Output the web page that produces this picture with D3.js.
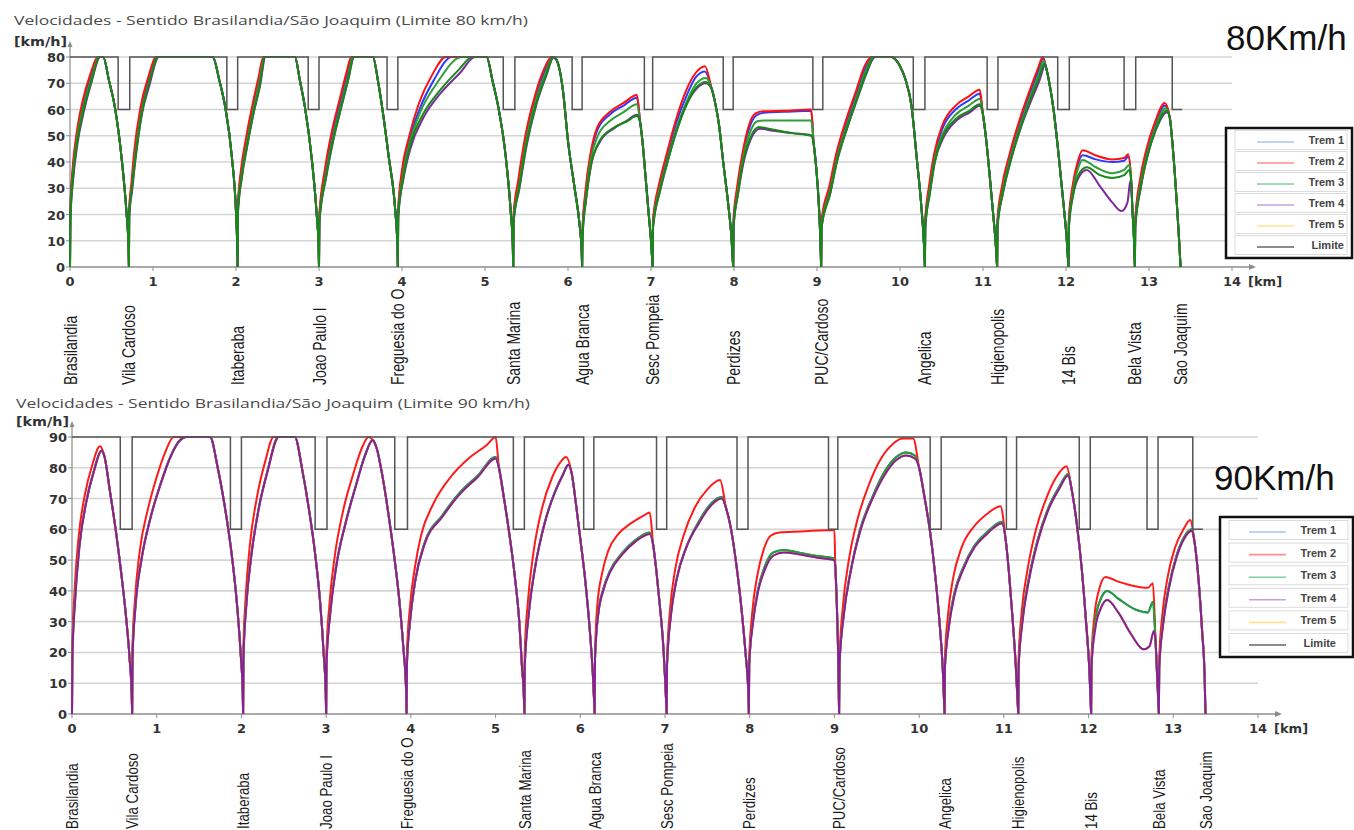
<!DOCTYPE html>
<html>
<head>
<meta charset="utf-8">
<script src="https://cdn.jsdelivr.net/npm/d3@7.9.0/dist/d3.min.js"></script>
<style>
  body { margin: 0; background: #fff; }
  svg { display: block; }
</style>
</head>
<body>
<svg id="chart" width="1354" height="830"></svg>
<script>
// stations along the line (km)
const stationKm = [0, 0.71, 2.02, 3.0, 3.95, 5.34, 6.17, 7.02, 7.99, 9.05, 10.3, 11.17, 12.03, 12.83, 13.38];
const stationNames = ['Brasilandia', 'Vila Cardoso', 'Itaberaba', 'Joao Paulo I', 'Freguesia do O', 'Santa Marina',
  'Agua Branca', 'Sesc Pompeia', 'Perdizes', 'PUC/Cardoso', 'Angelica', 'Higienopolis', '14 Bis', 'Bela Vista', 'Sao Joaquim'];

// speed limit: stretches where the limit drops to 60 km/h [from km, to km]
const limitDipsTop = [[0.58,0.72],[1.89,2.02],[2.87,3.0],[3.82,3.95],[5.22,5.36],[6.05,6.17],[6.92,7.02],[7.87,7.99],[8.95,9.07],[10.16,10.3],[11.05,11.18],[11.9,12.04],[12.7,12.84],[13.28,13.4]];
const limitDipsBottom = [[0.57,0.71],[1.87,2.0],[2.87,3.01],[3.81,3.96],[5.21,5.34],[6.04,6.16],[6.9,7.02],[7.85,7.98],[8.93,9.04],[10.13,10.26],[11.03,11.15],[11.89,12.02],[12.69,12.82],[13.23,13.35]];

const legendLabels = ['Trem 1', 'Trem 2', 'Trem 3', 'Trem 4', 'Trem 5', 'Limite'];
const legendColors = ['#a9c5ef', '#ff8e8e', '#7fd09e', '#c3a0e3', '#ffe290', '#666666'];

// ---- 80 km/h chart: braking curves (shared by all trains), [km, km/h]
const brakeTop = [
  [[0.40,80],[0.47,71],[0.54,61],[0.62,42],[0.68,21],[0.705,8],[0.71,0]],
  [[1.72,80],[1.80,71],[1.87,61],[1.95,42],[2.0,21],[2.015,8],[2.02,0]],
  [[2.71,80],[2.77,71],[2.83,61],[2.91,42],[2.97,21],[2.995,8],[3.0,0]],
  [[3.65,80],[3.71,71],[3.76,61],[3.84,42],[3.92,21],[3.945,8],[3.95,0]],
  [[5.02,80],[5.09,71],[5.16,61],[5.25,42],[5.31,21],[5.335,8],[5.34,0]],
  [[5.86,79],[5.9,75],[5.94,67],[6.0,48],[6.08,30],[6.14,16],[6.165,6],[6.17,0]],
  [[6.87,55],[6.9,47],[6.93,36],[6.97,21],[7.0,10],[7.02,0]],
  [[7.73,68],[7.77,63],[7.82,54],[7.87,40],[7.93,24],[7.97,11],[7.99,0]],
  [[8.96,47],[8.99,38],[9.02,25],[9.04,11],[9.05,0]],
  [[9.9,80],[9.96,78.5],[10.0,76.5],[10.06,72],[10.14,61],[10.2,42],[10.26,22],[10.29,8],[10.3,0]],
  [[11.0,58],[11.04,48],[11.08,35],[11.12,21],[11.155,8],[11.17,0]],
  [[11.76,76],[11.8,70],[11.85,60],[11.91,43],[11.97,24],[12.01,10],[12.03,0]],
  [[12.785,33],[12.8,22],[12.82,10],[12.83,0]],
  [[13.25,57],[13.28,48],[13.31,36],[13.34,22],[13.365,9],[13.38,0]]
];

// acceleration / cruise part of every run, per train
const trem1Top = [
  [[0,0],[0.004,21],[0.032,36],[0.082,50],[0.155,62],[0.245,72],[0.345,80]],
  [[0.71,0],[0.713,21],[0.743,31],[0.775,42],[0.855,60],[0.945,71],[1.05,80]],
  [[2.02,0],[2.023,23],[2.063,36],[2.125,48],[2.205,61],[2.275,71],[2.338,80]],
  [[3.0,0],[3.004,19],[3.075,36],[3.157,50],[3.257,63],[3.338,73],[3.4,80]],
  [[3.95,0],[3.954,21],[4.005,36],[4.085,48],[4.21,60],[4.38,71],[4.6,80]],
  [[5.34,0],[5.344,19],[5.405,32],[5.485,48],[5.605,64],[5.725,75],[5.81,80]],
  [[6.17,0],[6.174,13],[6.212,28],[6.272,42],[6.352,52],[6.5,58],[6.67,61.5],[6.83,64.5]],
  [[7.02,0],[7.024,17],[7.102,31],[7.183,41],[7.305,55],[7.425,65],[7.545,72.5],[7.65,74.5]],
  [[7.99,0],[7.994,17],[8.043,30],[8.103,42],[8.185,53],[8.27,57.8],[8.36,58.8],[8.6,59.1],[8.93,59.5]],
  [[9.05,0],[9.055,17],[9.153,30],[9.233,42],[9.355,55],[9.475,66],[9.585,76],[9.67,80]],
  [[10.3,0],[10.304,17],[10.353,30],[10.413,42],[10.515,53],[10.67,60],[10.83,63.5],[10.96,66]],
  [[11.17,0],[11.174,17],[11.233,30],[11.323,42],[11.445,55],[11.565,66],[11.665,74.5],[11.725,79.5]],
  [[12.03,0],[12.034,17],[12.082,30],[12.142,39],[12.2,42.6],[12.36,41],[12.56,40],[12.7,40.5],[12.75,42]],
  [[12.83,0],[12.834,17],[12.893,32],[12.973,44],[13.073,54],[13.19,61.5]]
];
const trem2Top = [
  [[0,0],[0.004,22],[0.03,37],[0.08,51],[0.15,63],[0.24,73],[0.34,80]],
  [[0.71,0],[0.713,22],[0.74,32],[0.77,43],[0.85,61],[0.94,72],[1.04,80]],
  [[2.02,0],[2.023,24],[2.06,37],[2.12,49],[2.2,62],[2.27,72],[2.33,80]],
  [[3.0,0],[3.004,20],[3.07,37],[3.15,51],[3.25,64],[3.33,74],[3.39,80]],
  [[3.95,0],[3.954,22],[4.0,37],[4.08,49],[4.2,62],[4.36,73],[4.53,80]],
  [[5.34,0],[5.344,20],[5.4,33],[5.48,49],[5.6,65],[5.72,76],[5.8,80]],
  [[6.17,0],[6.174,14],[6.21,29],[6.27,43],[6.35,53],[6.5,59],[6.67,62.5],[6.83,65.5]],
  [[7.02,0],[7.024,18],[7.1,32],[7.18,42],[7.3,56],[7.42,67],[7.54,74],[7.65,76.5]],
  [[7.99,0],[7.994,18],[8.04,31],[8.1,43],[8.18,54],[8.26,58.5],[8.35,59.3],[8.6,59.5],[8.93,60]],
  [[9.05,0],[9.055,18],[9.15,31],[9.23,43],[9.35,56],[9.47,67],[9.58,77],[9.66,80]],
  [[10.3,0],[10.304,18],[10.35,31],[10.41,43],[10.51,54],[10.67,61.5],[10.83,65],[10.96,67.5]],
  [[11.17,0],[11.174,18],[11.23,31],[11.32,43],[11.44,56],[11.56,67],[11.66,75.5],[11.72,80]],
  [[12.03,0],[12.034,18],[12.08,31],[12.14,40],[12.2,44.5],[12.36,42.5],[12.56,41],[12.7,41.5],[12.75,43]],
  [[12.83,0],[12.834,18],[12.89,33],[12.97,45],[13.07,55],[13.19,62.5]]
];
const trem3Top = [
  [[0,0],[0.004,20],[0.034,35],[0.085,49],[0.16,61],[0.25,71],[0.355,80]],
  [[0.71,0],[0.713,20],[0.745,30],[0.78,41],[0.86,59],[0.95,70],[1.06,80]],
  [[2.02,0],[2.023,22],[2.066,35],[2.13,47],[2.21,60],[2.28,70],[2.345,80]],
  [[3.0,0],[3.004,18],[3.08,35],[3.165,49],[3.265,62],[3.345,72],[3.41,80]],
  [[3.95,0],[3.954,20],[4.01,35],[4.09,47],[4.22,59],[4.42,70],[4.72,80]],
  [[5.34,0],[5.344,18],[5.41,31],[5.49,47],[5.61,63],[5.73,74],[5.82,80]],
  [[6.17,0],[6.174,12],[6.215,27],[6.275,41],[6.36,50],[6.5,55.5],[6.67,59],[6.83,62]],
  [[7.02,0],[7.024,16],[7.105,30],[7.188,40],[7.31,53],[7.43,63],[7.55,70],[7.66,72]],
  [[7.99,0],[7.994,16],[8.046,29],[8.106,41],[8.19,51],[8.28,55.5],[8.37,55.8],[8.6,55.8],[8.93,55.8]],
  [[9.05,0],[9.055,16],[9.156,29],[9.236,41],[9.36,54],[9.48,65],[9.59,75],[9.68,80]],
  [[10.3,0],[10.304,16],[10.356,29],[10.416,41],[10.52,51],[10.67,58],[10.83,61.5],[10.96,64]],
  [[11.17,0],[11.174,16],[11.236,29],[11.326,41],[11.45,54],[11.57,65],[11.67,73],[11.73,78.5]],
  [[12.03,0],[12.034,16],[12.085,29],[12.145,37.5],[12.2,40.8],[12.36,38],[12.56,35.7],[12.7,37],[12.765,39]],
  [[12.83,0],[12.834,16],[12.896,31],[12.976,43],[13.076,53],[13.2,60.5]]
];
const trem4Top = [
  [[0,0],[0.004,18],[0.037,33],[0.09,47],[0.165,59],[0.255,70],[0.365,80]],
  [[0.71,0],[0.713,19],[0.748,29],[0.785,40],[0.865,58],[0.955,69],[1.07,80]],
  [[2.02,0],[2.023,20],[2.07,34],[2.135,46],[2.215,59],[2.29,69],[2.355,80]],
  [[3.0,0],[3.004,17],[3.085,34],[3.17,48],[3.27,61],[3.35,71],[3.425,80]],
  [[3.95,0],[3.954,19],[4.02,34],[4.1,45],[4.26,57],[4.46,66],[4.7,74],[4.88,80]],
  [[5.34,0],[5.344,17],[5.415,30],[5.5,46],[5.62,62],[5.74,73],[5.83,80]],
  [[6.17,0],[6.174,11],[6.22,26],[6.28,39],[6.39,48],[6.55,52.7],[6.71,55.8],[6.83,58]],
  [[7.02,0],[7.024,15],[7.11,29],[7.19,39],[7.31,52],[7.43,62],[7.55,68],[7.66,70]],
  [[7.99,0],[7.994,15],[8.05,28],[8.11,39],[8.2,48.5],[8.31,52.7],[8.45,52],[8.7,51],[8.93,50.2]],
  [[9.05,0],[9.055,15],[9.16,28],[9.24,40],[9.365,53],[9.485,64],[9.6,74],[9.7,80]],
  [[10.3,0],[10.304,15],[10.36,28],[10.42,40],[10.52,49],[10.68,55.8],[10.84,58.9],[10.96,61.4]],
  [[11.17,0],[11.174,15],[11.24,28],[11.33,40],[11.455,53],[11.575,63],[11.68,71],[11.75,77]],
  [[12.03,0],[12.034,15],[12.09,28],[12.15,34],[12.25,37],[12.41,30.7],[12.56,24.5],[12.67,21.3],[12.74,24.5],[12.77,32]],
  [[12.83,0],[12.834,15],[12.9,30],[12.98,42],[13.08,52],[13.22,59]]
];
const trem5Top = [
  [[0,0],[0.004,17],[0.036,34],[0.088,48],[0.163,60],[0.252,70],[0.36,80]],
  [[0.71,0],[0.713,19],[0.747,30],[0.783,40],[0.862,58],[0.952,70],[1.065,80]],
  [[2.02,0],[2.023,21],[2.068,34],[2.133,46],[2.213,59],[2.285,69],[2.35,80]],
  [[3.0,0],[3.004,17],[3.083,34],[3.168,48],[3.268,61],[3.348,71],[3.42,80]],
  [[3.95,0],[3.954,19],[4.015,34],[4.095,46],[4.25,58],[4.45,67],[4.68,75],[4.85,80]],
  [[5.34,0],[5.344,17],[5.412,30],[5.495,46],[5.615,62],[5.735,73],[5.825,80]],
  [[6.17,0],[6.174,11],[6.218,26],[6.278,39],[6.38,48],[6.55,53],[6.71,55.5],[6.83,57.5]],
  [[7.02,0],[7.024,15],[7.108,29],[7.19,39],[7.31,52],[7.43,62],[7.55,68.5],[7.66,70.5]],
  [[7.99,0],[7.994,15],[8.048,28],[8.108,40],[8.2,49.5],[8.3,53.3],[8.45,52.5],[8.7,51],[8.93,50]],
  [[9.05,0],[9.055,15],[9.158,28],[9.238,40],[9.362,53],[9.482,64],[9.595,74],[9.69,80]],
  [[10.3,0],[10.304,15],[10.358,28],[10.418,40],[10.52,50],[10.675,56.5],[10.835,59.5],[10.96,62]],
  [[11.17,0],[11.174,15],[11.238,28],[11.328,40],[11.452,53],[11.572,64],[11.675,72],[11.74,77.5]],
  [[12.03,0],[12.034,15],[12.088,28],[12.148,35],[12.25,38],[12.41,35],[12.56,33.9],[12.7,35],[12.765,37]],
  [[12.83,0],[12.834,15],[12.898,30],[12.978,42],[13.078,52],[13.21,59.5]]
];

// ---- 90 km/h chart
const brakeBottom = [
  [[0.38,84],[0.45,72],[0.52,59],[0.58,46],[0.64,31],[0.68,18],[0.705,6],[0.71,0]],
  [[1.63,90],[1.72,80],[1.8,68],[1.88,53],[1.94,38],[1.99,20],[2.015,7],[2.02,0]],
  [[2.63,90],[2.72,79],[2.8,66],[2.87,52],[2.93,36],[2.97,20],[2.995,7],[3.0,0]],
  [[3.6,86],[3.66,78],[3.73,66],[3.8,52],[3.86,38],[3.91,22],[3.945,7],[3.95,0]],
  [[5.04,80],[5.1,70],[5.17,57],[5.23,44],[5.28,30],[5.31,16],[5.335,5],[5.34,0]],
  [[5.9,78],[5.95,68],[6.0,57],[6.06,43],[6.11,28],[6.15,12],[6.17,0]],
  [[6.86,55],[6.9,46],[6.94,35],[6.98,22],[7.0,12],[7.02,0]],
  [[7.72,67],[7.78,60],[7.84,49],[7.9,35],[7.95,20],[7.985,6],[7.99,0]],
  [[9.01,48],[9.03,34],[9.045,18],[9.055,0]],
  [[10.0,80],[10.06,71],[10.13,59],[10.19,45],[10.24,30],[10.28,14],[10.3,0]],
  [[11.02,57],[11.06,46],[11.1,32],[11.14,16],[11.17,0]],
  [[11.8,73],[11.86,62],[11.92,47],[11.97,30],[12.01,14],[12.03,0]],
  [[12.79,24],[12.81,12],[12.83,0]],
  [[13.25,56],[13.3,43],[13.34,27],[13.37,12],[13.38,0]]
];
const trem2Bottom = [
  [[0,0],[0.004,22],[0.03,40],[0.08,58],[0.15,71],[0.24,81],[0.33,87]],
  [[0.71,0],[0.714,22],[0.74,36],[0.8,53],[0.9,67],[1.0,77],[1.1,85],[1.2,90]],
  [[2.02,0],[2.024,22],[2.05,38],[2.1,55],[2.18,70],[2.28,82],[2.38,90]],
  [[3.0,0],[3.004,20],[3.04,36],[3.1,51],[3.2,66],[3.32,78],[3.43,87],[3.5,90]],
  [[3.95,0],[3.954,20],[3.99,35],[4.05,48],[4.12,58],[4.26,68],[4.47,77],[4.68,83],[4.9,87.5],[5.0,90]],
  [[5.34,0],[5.344,20],[5.38,36],[5.45,53],[5.55,67],[5.67,77],[5.77,82],[5.83,83.5]],
  [[6.17,0],[6.174,20],[6.2,35],[6.26,46],[6.33,53],[6.45,58.5],[6.6,62],[6.75,64.5],[6.82,65.5]],
  [[7.02,0],[7.024,18],[7.06,34],[7.12,47],[7.22,58],[7.35,67],[7.5,73],[7.65,76]],
  [[7.99,0],[7.994,18],[8.03,33],[8.09,45],[8.16,53],[8.25,58],[8.35,59],[8.6,59.3],[9.0,59.8]],
  [[9.055,0],[9.06,18],[9.1,35],[9.17,50],[9.27,63],[9.4,74],[9.55,83],[9.7,88],[9.8,89.5],[9.93,89.5]],
  [[10.3,0],[10.304,18],[10.34,32],[10.4,44],[10.5,54],[10.65,61],[10.8,65],[10.96,67.5]],
  [[11.17,0],[11.174,18],[11.21,33],[11.28,47],[11.38,60],[11.5,70],[11.62,77],[11.74,80.5]],
  [[12.03,0],[12.034,18],[12.07,32],[12.12,40],[12.2,44.5],[12.35,43],[12.55,41.5],[12.7,41],[12.76,42.5]],
  [[12.83,0],[12.834,18],[12.87,32],[12.93,44],[13.02,54],[13.12,60],[13.2,63]]
];
const trem3Bottom = [
  [[0,0],[0.004,19],[0.034,37],[0.088,55],[0.168,69],[0.258,79],[0.345,85.5]],
  [[0.71,0],[0.714,19],[0.748,35],[0.818,50],[0.928,64],[1.048,75],[1.168,84],[1.275,89],[1.34,90]],
  [[2.02,0],[2.024,19],[2.058,36],[2.118,52],[2.198,66],[2.308,79],[2.435,90]],
  [[3.0,0],[3.004,17],[3.048,33],[3.118,48],[3.228,62],[3.348,74],[3.458,84],[3.548,89]],
  [[3.95,0],[3.954,17],[3.99,30],[4.05,43],[4.16,55.5],[4.37,64.5],[4.58,72],[4.79,77.5],[5.0,83.5]],
  [[5.34,0],[5.344,16],[5.388,32],[5.468,48],[5.578,62],[5.698,72],[5.798,78],[5.858,81]],
  [[6.17,0],[6.174,18],[6.21,32],[6.27,40.5],[6.35,46.5],[6.5,52.5],[6.65,56.5],[6.82,59]],
  [[7.02,0],[7.024,16],[7.068,32],[7.138,44],[7.248,54],[7.398,62.5],[7.548,68.5],[7.67,70.5]],
  [[7.99,0],[7.994,16],[8.038,30],[8.098,40.5],[8.178,48],[8.278,52.5],[8.4,53.3],[8.6,52.3],[8.8,51.3],[9.0,50.5]],
  [[9.055,0],[9.06,16],[9.108,32],[9.188,46],[9.298,59.5],[9.448,70.5],[9.598,79],[9.73,83.5],[9.85,85],[9.95,84]],
  [[10.3,0],[10.304,15],[10.348,28.5],[10.418,39.5],[10.518,47.5],[10.648,54.5],[10.798,59],[10.98,62.5]],
  [[11.17,0],[11.174,15],[11.218,30.5],[11.298,44.5],[11.398,56.5],[11.518,66.5],[11.648,73.5],[11.76,78]],
  [[12.03,0],[12.034,16],[12.078,30],[12.138,37],[12.22,40],[12.35,37.5],[12.55,34],[12.7,33],[12.76,36.5]],
  [[12.83,0],[12.834,15],[12.878,29.5],[12.948,41.5],[13.038,51.5],[13.128,57.5],[13.22,60]]
];
const trem4Bottom = [
  [[0,0],[0.004,18],[0.035,36],[0.09,55],[0.17,69],[0.26,79],[0.35,85.5]],
  [[0.71,0],[0.714,18],[0.75,35],[0.82,50],[0.93,64],[1.05,75],[1.17,84],[1.28,89],[1.35,90]],
  [[2.02,0],[2.024,18],[2.06,36],[2.12,52],[2.2,66],[2.31,79],[2.44,90]],
  [[3.0,0],[3.004,16],[3.05,33],[3.12,48],[3.23,62],[3.35,74],[3.46,84],[3.55,89]],
  [[3.95,0],[3.954,16],[3.99,30],[4.05,43],[4.16,55],[4.37,64],[4.58,71.5],[4.79,77],[5.0,83]],
  [[5.34,0],[5.344,15],[5.39,32],[5.47,48],[5.58,62],[5.7,72],[5.8,78],[5.86,81]],
  [[6.17,0],[6.174,18],[6.21,32],[6.27,40],[6.35,46],[6.5,52],[6.65,56],[6.82,58.5]],
  [[7.02,0],[7.024,16],[7.07,32],[7.14,44],[7.25,54],[7.4,62],[7.55,68],[7.67,70]],
  [[7.99,0],[7.994,16],[8.04,30],[8.1,40],[8.18,47],[8.28,51.5],[8.4,52.5],[8.6,51.8],[8.8,50.8],[9.0,50]],
  [[9.055,0],[9.06,16],[9.11,32],[9.19,46],[9.3,59],[9.45,70],[9.6,78],[9.73,82.5],[9.85,84],[9.95,83]],
  [[10.3,0],[10.304,15],[10.35,28],[10.42,39],[10.52,47],[10.65,54],[10.8,58.5],[10.98,62]],
  [[11.17,0],[11.174,15],[11.22,30],[11.3,44],[11.4,56],[11.52,66],[11.65,73],[11.76,77.5]],
  [[12.03,0],[12.034,15],[12.08,28],[12.14,34],[12.22,37],[12.35,33],[12.5,26],[12.65,21],[12.72,22],[12.77,27]],
  [[12.83,0],[12.834,15],[12.88,29],[12.95,41],[13.04,51],[13.13,57],[13.22,59.5]]
];
// trains 1 and 5 run on top of trains 3 and 4 in the 90 km/h run
const trem1Bottom = trem3Bottom;
const trem5Bottom = trem4Bottom;

const svg = d3.select('#chart');
const sans = '"Liberation Sans", Arial, sans-serif';
const bold = '"DejaVu Sans", Verdana, sans-serif';

function drawChart(c) {
  const g = svg.append('g');
  const x = d3.scaleLinear().domain([0, 14]).range(c.xRange);
  const y = d3.scaleLinear().domain([0, c.vMax]).range(c.yRange);
  const y0 = y(0), x0 = x(0);

  // title
  g.append('text').attr('x', c.titlePos[0]).attr('y', c.titlePos[1])
    .attr('font-family', '"Open Sans", sans-serif').attr('font-size', 13).attr('fill', '#4a4a4a')
    .attr('textLength', 514).attr('lengthAdjust', 'spacingAndGlyphs')
    .text(c.title);

  // horizontal grid
  const vTicks = y.ticks(c.vMax / 10);
  g.selectAll('line.grid').data(vTicks.filter(d => d > 0)).join('line')
    .attr('x1', x0).attr('x2', x(14)).attr('y1', d => y(d)).attr('y2', d => y(d))
    .attr('stroke', '#d4d4d4').attr('stroke-width', 1.6);

  // axes
  g.append('line').attr('x1', x0).attr('x2', x(14) + 22).attr('y1', y0).attr('y2', y0)
    .attr('stroke', '#8c8c8c').attr('stroke-width', 1.6);
  g.append('path').attr('d', `M${x(14) + 24},${y0} l-7,-3 l0,6 z`).attr('fill', '#8c8c8c');
  g.append('line').attr('x1', x0).attr('x2', x0).attr('y1', y0).attr('y2', y(c.vMax) - 14)
    .attr('stroke', '#8c8c8c').attr('stroke-width', 1.2);
  g.append('path').attr('d', `M${x0},${y(c.vMax) - 16} l-2.5,6 l5,0 z`).attr('fill', '#8c8c8c');

  const kmTicks = x.ticks(14);
  g.selectAll('line.xt').data(kmTicks).join('line')
    .attr('x1', d => x(d)).attr('x2', d => x(d)).attr('y1', y0).attr('y2', y0 + 4)
    .attr('stroke', '#8c8c8c');
  g.selectAll('text.xt').data(kmTicks).join('text')
    .attr('x', d => x(d)).attr('y', y0 + 19).attr('text-anchor', 'middle')
    .attr('font-family', bold).attr('font-weight', 'bold').attr('font-size', 13).attr('fill', '#333')
    .text(d => d);
  g.append('text').attr('x', x(14) + 16).attr('y', y0 + 19)
    .attr('font-family', bold).attr('font-weight', 'bold').attr('font-size', 13).attr('fill', '#333')
    .text('[km]');

  g.selectAll('line.yt').data(vTicks).join('line')
    .attr('x1', x0 - 4).attr('x2', x0).attr('y1', d => y(d)).attr('y2', d => y(d))
    .attr('stroke', '#8c8c8c');
  g.selectAll('text.yt').data(vTicks).join('text')
    .attr('x', x0 - 5).attr('y', d => y(d) + 5).attr('text-anchor', 'end')
    .attr('font-family', bold).attr('font-weight', 'bold').attr('font-size', 13).attr('fill', '#333')
    .text(d => d);
  g.append('text').attr('x', x0 - 3).attr('y', y(c.vMax) - 11).attr('text-anchor', 'end')
    .attr('font-family', bold).attr('font-weight', 'bold').attr('font-size', 12).attr('fill', '#333')
    .attr('textLength', 53).attr('lengthAdjust', 'spacingAndGlyphs')
    .text('[km/h]');

  // speed curves
  const line = d3.line().x(d => x(d[0])).y(d => y(d[1])).curve(d3.curveMonotoneX);
  c.trains.forEach(t => {
    const d = t.runs.map((run, i) => line(run.concat(c.brake[i]))).join('');
    g.append('path').attr('d', d).attr('fill', 'none')
      .attr('stroke', t.color).attr('stroke-width', 2).attr('stroke-linejoin', 'round');
  });

  // speed limit
  const lim = [[0, c.vMax]];
  c.dips.forEach(([a, b], i) => {
    lim.push([a, c.vMax], [a, 60], [b, 60]);
    if (i < c.dips.length - 1) lim.push([b, c.vMax]);
  });
  g.append('path').attr('d', d3.line().x(d => x(d[0])).y(d => y(d[1]))(lim))
    .attr('fill', 'none').attr('stroke', '#555').attr('stroke-width', 1.5);

  // station names
  g.selectAll('text.st').data(stationKm).join('text')
    .attr('transform', d => `translate(${x(d)},${c.labelBase}) scale(1.3,1) rotate(-90)`)
    .attr('dy', '0.36em')
    .attr('font-family', sans).attr('font-size', c.labelSize).attr('fill', '#1a1a1a')
    .text((d, i) => stationNames[i]);

  // speed label
  g.append('text').attr('x', c.bigPos[0]).attr('y', c.bigPos[1])
    .attr('font-family', sans).attr('font-size', 35).attr('fill', '#111')
    .text(c.bigLabel);

  // legend
  const L = c.legend;
  g.append('rect').attr('x', L.x).attr('y', L.y).attr('width', L.w).attr('height', L.h)
    .attr('fill', '#fff').attr('stroke', '#111').attr('stroke-width', 2.5);
  const rows = g.selectAll('g.lg').data(legendLabels).join('g')
    .attr('transform', (d, i) => `translate(0,${L.y + L.first + i * L.step})`);
  rows.append('rect').attr('x', L.x + 9).attr('y', -9.5).attr('width', L.w - 14).attr('height', 19)
    .attr('fill', '#fff').attr('stroke', '#dcdcdc');
  rows.append('line').attr('x1', L.x + L.lineX).attr('x2', L.x + L.lineX + 37).attr('y1', 2).attr('y2', 2)
    .attr('stroke', (d, i) => legendColors[i]).attr('stroke-width', 1.6);
  rows.append('text').attr('x', L.x + L.textX).attr('y', 4).attr('text-anchor', 'end')
    .attr('font-family', sans).attr('font-weight', 'bold').attr('font-size', 11).attr('fill', '#444')
    .text(d => d);
}

drawChart({
  title: 'Velocidades - Sentido Brasilandia/São Joaquim (Limite 80 km/h)',
  titlePos: [14, 25],
  xRange: [70, 1232], yRange: [267, 57], vMax: 80,
  brake: brakeTop, dips: limitDipsTop,
  trains: [
    { runs: trem1Top, color: '#2b3cff' },
    { runs: trem2Top, color: '#ff1010' },
    { runs: trem3Top, color: '#2e9e3a' },
    { runs: trem4Top, color: '#7a2a9e' },
    { runs: trem5Top, color: '#158a15' }
  ],
  labelBase: 385, labelSize: 14, bigLabel: '80Km/h', bigPos: [1226, 50],
  legend: { x: 1226, y: 128, w: 126, h: 130, first: 12, step: 21, lineX: 31, textX: 118 }
});

drawChart({
  title: 'Velocidades - Sentido Brasilandia/São Joaquim (Limite 90 km/h)',
  titlePos: [16, 408],
  xRange: [72, 1258], yRange: [714, 437], vMax: 90,
  brake: brakeBottom, dips: limitDipsBottom,
  trains: [
    { runs: trem1Bottom, color: '#3a5cff' },
    { runs: trem2Bottom, color: '#ff1a1a' },
    { runs: trem3Bottom, color: '#22a02a' },
    { runs: trem5Bottom, color: '#e0a020' },
    { runs: trem4Bottom, color: '#86209a' }
  ],
  labelBase: 829, labelSize: 13.3, bigLabel: '90Km/h', bigPos: [1214, 490],
  legend: { x: 1220, y: 517, w: 133, h: 140, first: 13, step: 22.6, lineX: 29, textX: 116 }
});
</script>
</body>
</html>
